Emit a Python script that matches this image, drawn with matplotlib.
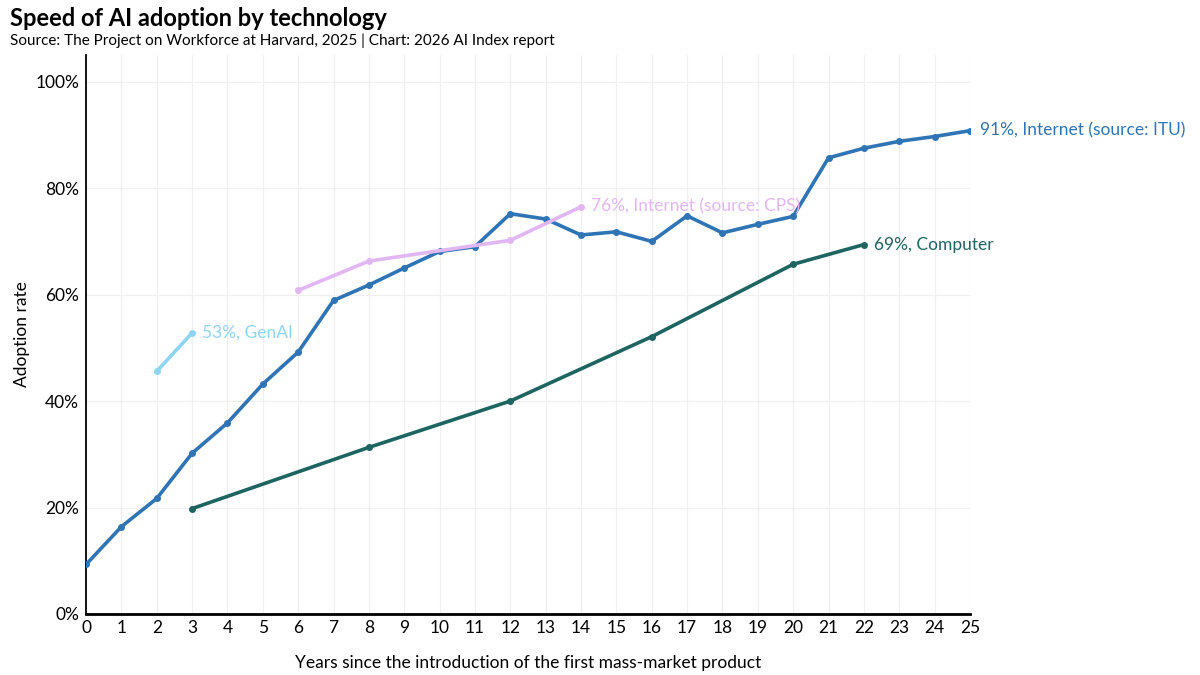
import numpy as np
import matplotlib
matplotlib.use('Agg')
import matplotlib.pyplot as plt

plt.rcParams['font.family'] = ['Lato', 'DejaVu Sans']

# 数据：采用率（%）
itu_years = list(range(0, 26))
itu_rate = [9.3, 16.4, 21.7, 30.2, 35.9, 43.2, 49.2, 58.9, 61.8, 65.0,
            68.1, 69.0, 75.2, 74.2, 71.2, 71.8, 70.0, 74.8, 71.6, 73.2,
            74.7, 85.7, 87.5, 88.8, 89.7, 90.8]

cps_years = [6, 8, 12, 14]
cps_rate = [60.8, 66.3, 70.2, 76.5]

genai_years = [2, 3]
genai_rate = [45.6, 52.8]

pc_years = [3, 8, 12, 16, 20, 22]
pc_rate = [19.8, 31.3, 40.0, 52.1, 65.7, 69.4]

series = [
    ('Internet (source: ITU)', itu_years, itu_rate, '#2f74b5', 91),
    ('Internet (source: CPS)', cps_years, cps_rate, '#e2b6f3', 76),
    ('GenAI', genai_years, genai_rate, '#8fd4f3', 53),
    ('Computer', pc_years, pc_rate, '#1e6461', 69),
]

fig = plt.figure(figsize=(12, 6.75), dpi=100)
ax = fig.add_axes([0.0717, 0.0904, 0.7366, 0.828])

for name, xs, ys, color, pct in series:
    ax.plot(xs, ys, color=color, lw=2.6, marker='o', ms=4, zorder=3,
            solid_capstyle='round')
    ax.annotate('%d%%, %s' % (pct, name), xy=(xs[-1], ys[-1]),
                xytext=(7, 0), textcoords='offset points',
                color=color, fontsize=12.5, va='center', ha='left',
                annotation_clip=False)

ax.set_xlim(0, 25)
ax.set_ylim(0, 105)
ax.set_xticks(range(0, 26))
ax.set_yticks([0, 20, 40, 60, 80, 100])
ax.set_yticklabels(['%d%%' % v for v in [0, 20, 40, 60, 80, 100]])
ax.tick_params(length=0, labelsize=12.5)
ax.tick_params(axis='x', pad=4)
ax.tick_params(axis='y', pad=5)
ax.grid(True, color='#f0f0f0', lw=0.9)
ax.set_axisbelow(True)
for s in ['top', 'right']:
    ax.spines[s].set_visible(False)
ax.spines['left'].set_linewidth(1.3)
ax.spines['bottom'].set_linewidth(2.0)

ax.set_xlabel('Years since the introduction of the first mass-market product',
              fontsize=12.5, labelpad=14)
ax.set_ylabel('Adoption rate', fontsize=12.5, labelpad=4)

fig.text(0.008, 0.972, 'Speed of AI adoption by technology', fontsize=17,
         fontweight='bold', va='center')
fig.text(0.008, 0.939, 'Source: The Project on Workforce at Harvard, 2025 | Chart: 2026 AI Index report',
         fontsize=11, va='center')

fig.savefig('out.png', dpi=100)
